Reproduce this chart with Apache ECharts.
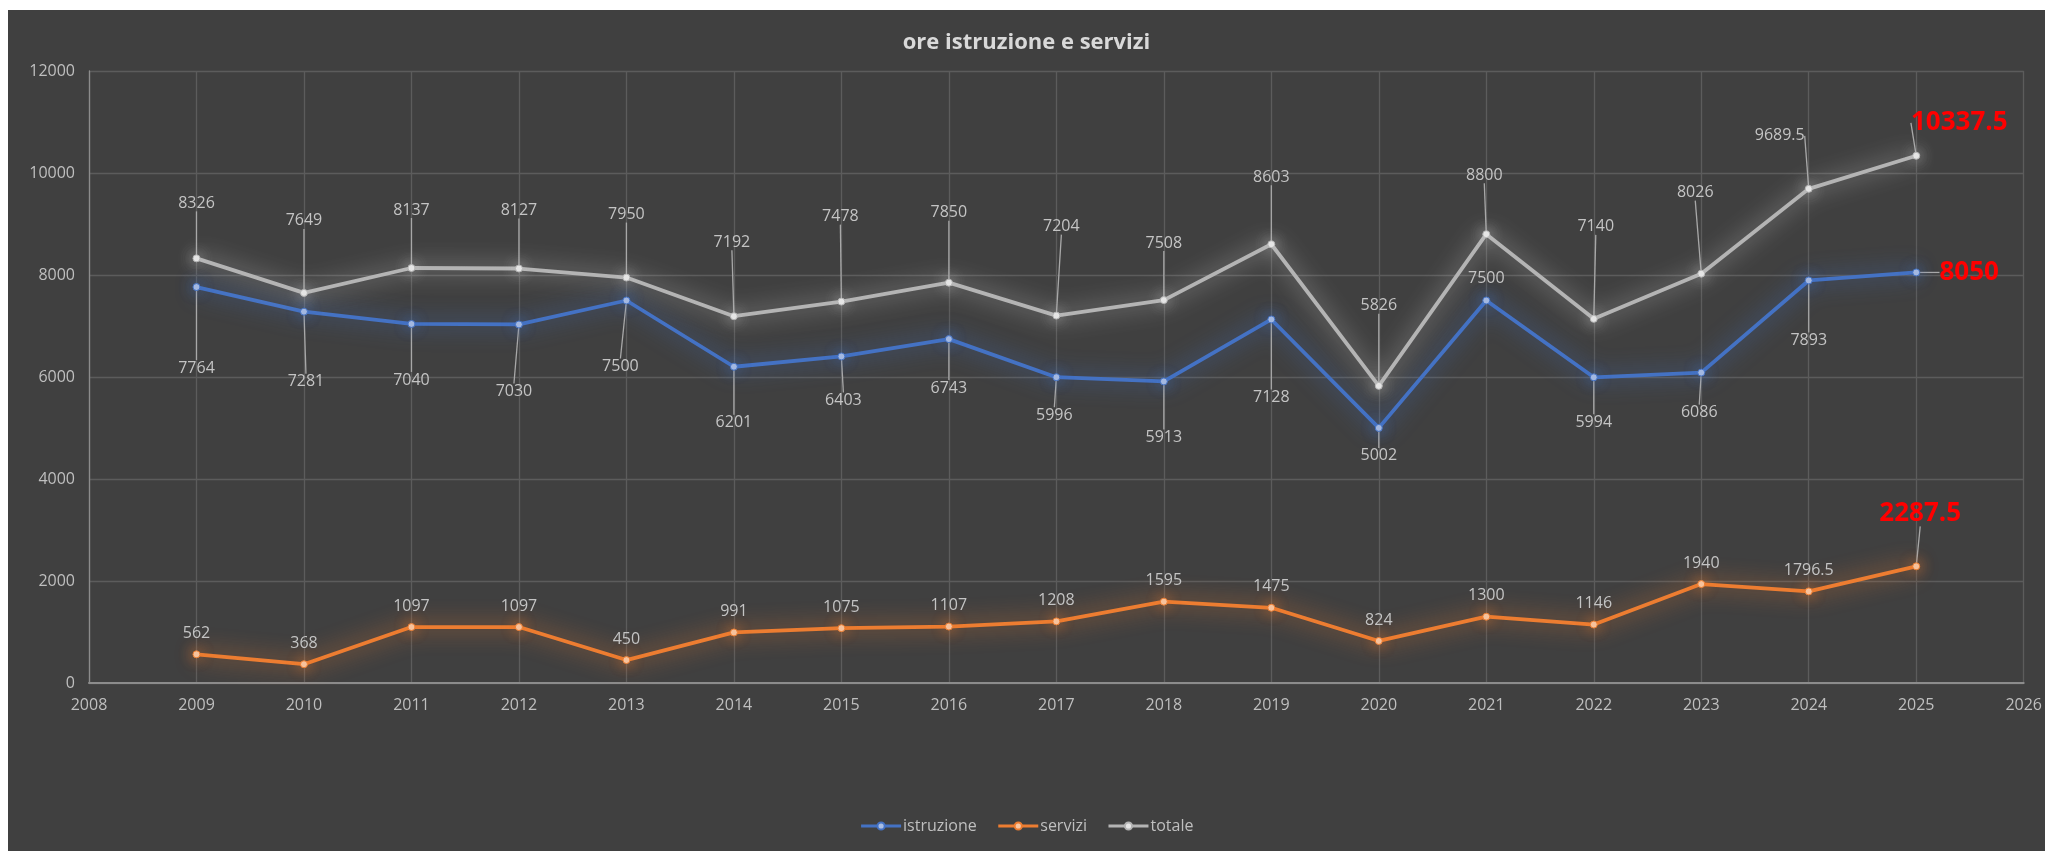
<!DOCTYPE html>
<html><head><meta charset="utf-8">
<script src="https://cdn.jsdelivr.net/npm/echarts@6/dist/echarts.min.js"></script>
<style>
html,body{margin:0;padding:0;background:#ffffff;width:2045px;height:851px;overflow:hidden}
#chart{position:absolute;left:8px;top:10px;width:2037px;height:841px;background:#404040}
</style></head><body><div id="chart"></div>
<script>
// ---- data ----
const years = [2009,2010,2011,2012,2013,2014,2015,2016,2017,2018,2019,2020,2021,2022,2023,2024,2025];
const istruzione = [7764,7281,7040,7030,7500,6201,6403,6743,5996,5913,7128,5002,7500,5994,6086,7893,8050];
const servizi = [562,368,1097,1097,450,991,1075,1107,1208,1595,1475,824,1300,1146,1940,1796.5,2287.5];
const totale = [8326,7649,8137,8127,7950,7192,7478,7850,7204,7508,8603,5826,8800,7140,8026,9689.5,10337.5];
const seriesNames = ['istruzione','servizi','totale'];
const xMin = 2008, xMax = 2026, yMin = 0, yMax = 12000, yStep = 2000;

// ---- label layout (pixel offsets of each data label from its point) ----
const totOffsets = [[0,-55],[0,-72],[0,-58],[0,-58],[0,-63],[-2,-74],[-1,-85],[0,-70],[5,-89],[0,-57],[0,-67],[0,-80],[-2,-59],[2,-92],[-6,-81],[-29,-53],[43,-33]];
const istOffsets = [[0,81],[2,70],[0,56],[-5,67],[-6,66],[0,56],[2,44],[0,49],[-2,38],[0,56],[0,78],[0,28],[0,-22],[0,45],[-2,40],[0,60],[53,0]];
const serOffsets = years.map((y,i)=> i === years.length-1 ? [4,-53] : [0,-21]);

const FONT = '"Open Sans", "Liberation Sans", sans-serif';
const LABEL_COLOR = '#c4c4c4';
const GUIDE_COLOR = '#a8a8a8';

function buildData(vals, offsets){
  const last = vals.length - 1;
  return vals.map((v,i)=>{
    const item = { value: [years[i], v] };
    const o = offsets[i];
    const near = Math.abs(o[1]) < 25 && Math.abs(o[0]) < 20;
    if (i === last) {
      item.label = { color:'#ff0000', fontSize:26, fontWeight:'bold', padding:[2,6] };
    }
    if (near) item.labelLine = { show:false };
    return item;
  });
}

function makeLayout(offsets){
  return function(p){
    const o = offsets[p.dataIndex];
    const cx = p.rect.x + p.rect.width/2;
    const cy = p.rect.y + p.rect.height/2;
    return { x: cx + o[0], y: cy + o[1], align:'center', verticalAlign:'middle' };
  };
}

function makeSeries(name, vals, offsets, color, symFill, glow){
  return {
    name, type:'line', data: buildData(vals, offsets),
    symbol:'circle', symbolSize:7, showSymbol:true,
    lineStyle:{ color, width:3.8, shadowColor: glow, shadowBlur:22 },
    itemStyle:{ color: symFill, borderColor: color, borderWidth:1, shadowColor: glow, shadowBlur:14 },
    label:{ show:true, position:'inside', color:LABEL_COLOR, fontSize:16, fontFamily:FONT, padding:[7,4],
      formatter: p => String(p.value[1]) },
    labelLine:{ show:true, lineStyle:{ color:GUIDE_COLOR, width:1.3 } },
    labelLayout: makeLayout(offsets),
    emphasis:{ disabled:true },
    z: 3
  };
}

const chart = echarts.init(document.getElementById('chart'), null, {renderer:'canvas'});
chart.setOption({
  backgroundColor:'#404040',
  animation:false,
  title:{ text:'ore istruzione e servizi', left:'center', top:17,
    textStyle:{ color:'#d9d9d9', fontSize:22, fontWeight:'bold', fontFamily:FONT } },
  legend:{ data: seriesNames, bottom:12, left:'center', itemWidth:40, itemHeight:9, itemGap:20,
    lineStyle:{ width:3 },
    textStyle:{ color:'#bfbfbf', fontSize:16, fontFamily:FONT, padding:[0,0,0,-3] } },
  grid:{ left:81, top:61, right:19, bottom:168, containLabel:false },
  xAxis:{ type:'value', min:xMin, max:xMax, interval:1,
    axisLine:{ show:true, lineStyle:{ color:'#8c8c8c', width:2 } },
    axisTick:{ show:false },
    axisLabel:{ color:'#bfbfbf', fontSize:16, fontFamily:FONT, margin:14, formatter: v => String(v) },
    splitLine:{ show:true, lineStyle:{ color:'#5c5c5c', width:1.3 } } },
  yAxis:{ type:'value', min:yMin, max:yMax, interval:yStep,
    axisLine:{ show:true, lineStyle:{ color:'#8c8c8c', width:1.3 } },
    axisTick:{ show:false },
    axisLabel:{ color:'#bfbfbf', fontSize:16, fontFamily:FONT, margin:14, formatter: v => String(v) },
    splitLine:{ show:true, lineStyle:{ color:'#5c5c5c', width:1.3 } } },
  series:[
    makeSeries('istruzione', istruzione, istOffsets, '#4472C4', '#a9bde3', 'rgba(68,114,196,1)'),
    makeSeries('servizi', servizi, serOffsets, '#ED7D31', '#f8c7a3', 'rgba(237,125,49,1)'),
    makeSeries('totale', totale, totOffsets, '#B4B4B4', '#e6e6e6', 'rgba(215,215,215,0.9)')
  ]
});
</script></body></html>
